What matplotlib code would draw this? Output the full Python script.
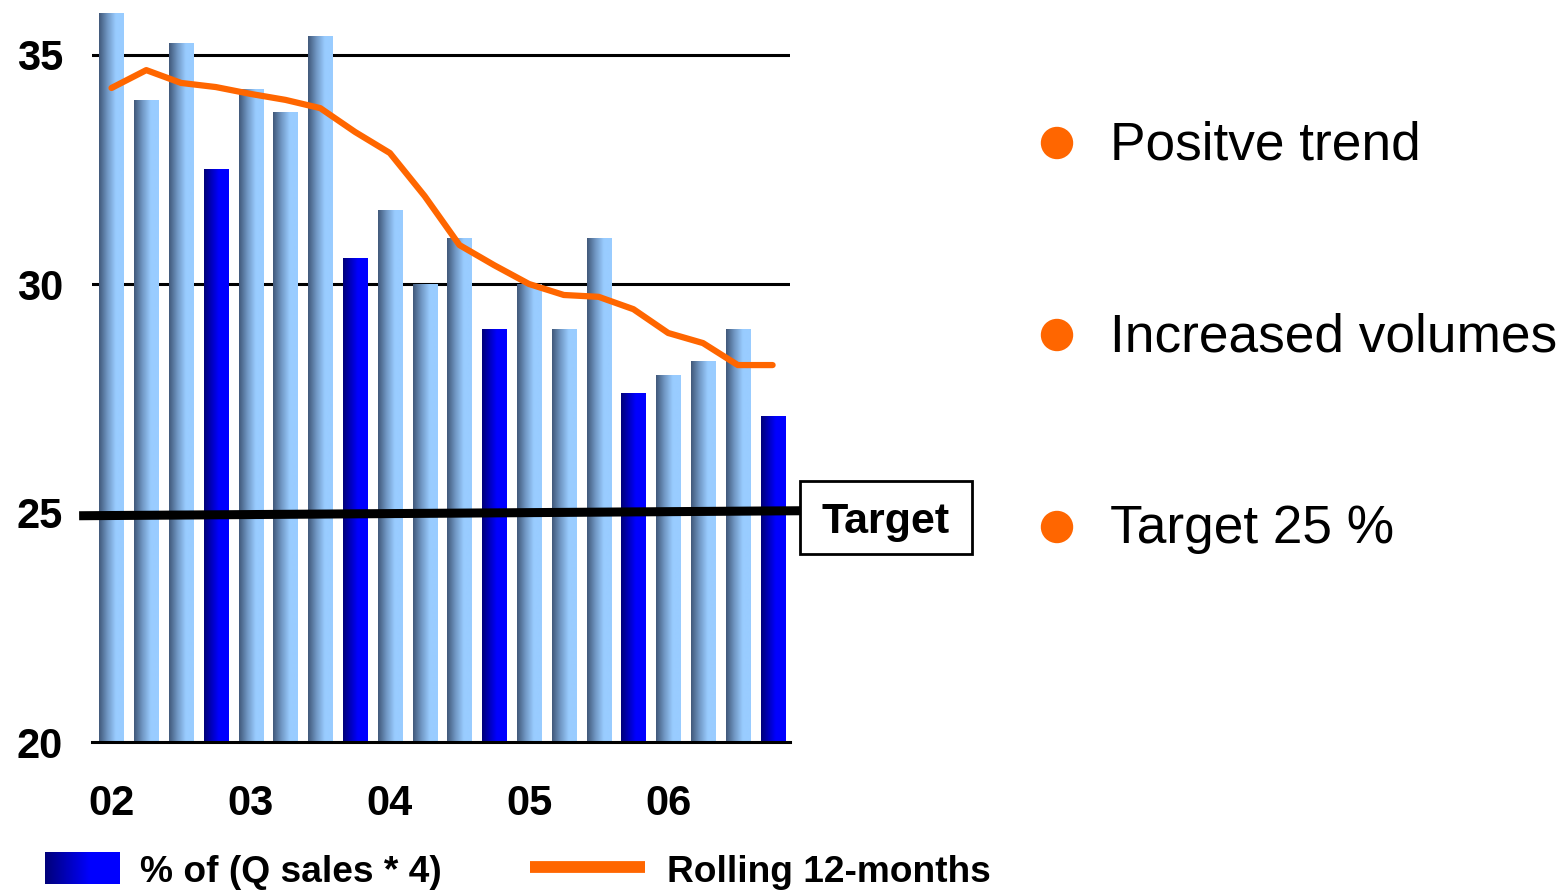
import numpy as np
import matplotlib
matplotlib.use("Agg")
import matplotlib.pyplot as plt
from matplotlib.colors import LinearSegmentedColormap
from matplotlib.patches import Circle, Rectangle

plt.rcParams['font.family'] = ['Liberation Sans', 'DejaVu Sans']

# Quarterly values, 2002-2006
quarter_values = [35.9, 34.0, 35.25, 32.5,
                  34.25, 33.75, 35.4, 30.55,
                  31.6, 30.0, 31.0, 29.0,
                  30.0, 29.0, 31.0, 27.6,
                  28.0, 28.3, 29.0, 27.1]
rolling_12m = [34.28, 34.67, 34.39, 34.30,
               34.15, 34.02, 33.84, 33.32,
               32.86, 31.92, 30.85, 30.41,
               30.0, 29.76, 29.72, 29.45,
               28.93, 28.71, 28.23, 28.23]
year_labels = ["02", "03", "04", "05", "06"]
target_line = [24.94, 25.05]
y_ticks = [20, 25, 30, 35]
bullets = ["Positve trend", "Increased volumes", "Target 25 %"]

W, H = 1562, 891
fig = plt.figure(figsize=(W / 100, H / 100), dpi=100)

ax_left, ax_right, ax_bottom, ax_top = 92, 790, 742, 9.2
ax = fig.add_axes([ax_left / W, 1 - ax_bottom / H,
                   (ax_right - ax_left) / W, (ax_bottom - ax_top) / H])

n = len(quarter_values)
x = np.arange(n)
bar_w = 0.69

light_cmap = LinearSegmentedColormap.from_list(
    "light", [(0, "#41597a"), (0.35, "#7299c6"), (0.68, "#99ccff"), (1, "#99ccff")])
dark_cmap = LinearSegmentedColormap.from_list(
    "dark", [(0, "#00007a"), (0.6, "#0000ff"), (1, "#0000ff")])
grad = np.linspace(0, 1, 64).reshape(1, -1)

bars = ax.bar(x, np.array(quarter_values) - 20, bottom=20, width=bar_w,
              color="none", edgecolor="none", zorder=2)
for i, b in enumerate(bars):
    cmap = dark_cmap if i % 4 == 3 else light_cmap
    x0 = b.get_x()
    ax.imshow(grad, cmap=cmap, aspect="auto", interpolation="bilinear",
              extent=(x0, x0 + b.get_width(), 20, quarter_values[i]), zorder=2)

ax.plot(x, rolling_12m, color="#ff6600", lw=4.5, solid_capstyle="round",
        solid_joinstyle="round", zorder=4)

# gridlines at 30 and 35
for yv in (30, 35):
    ax.axhline(yv, color="black", lw=2.2, zorder=1)

# target line extends beyond the plotting area
ax.plot([-0.93, 19.93], target_line, color="black", lw=6.5, zorder=5,
        clip_on=False, solid_capstyle="butt")

ax.set_xlim(-0.56, 19.5)
ax.set_ylim(20, 36)
for s in ("top", "right", "left"):
    ax.spines[s].set_visible(False)
ax.spines["bottom"].set_linewidth(2.2)
ax.spines["bottom"].set_zorder(6)

ax.set_yticks(y_ticks)
ax.set_yticklabels([str(v) for v in y_ticks], fontsize=30, fontweight="bold")
ax.tick_params(axis="y", length=0, pad=21)
ax.set_xticks(x[::4])
ax.set_xticklabels(year_labels, fontsize=30, fontweight="bold")
ax.tick_params(axis="x", length=0, pad=30)
ax.set_facecolor("none")

# annotation layer in pixel coordinates
ov = fig.add_axes([0, 0, 1, 1], zorder=10)
ov.axis("off")

ov.add_patch(Rectangle((800, 481), 172, 73, fc="white", ec="black", lw=2))
ov.text(886, 522, "Target", fontsize=31, fontweight="bold", ha="center", va="center")

# legend
ov.imshow(grad, cmap=dark_cmap, aspect="auto", extent=(45, 120, 884, 852), zorder=3)
ov.text(140, 872, "% of (Q sales * 4)", fontsize=26.7, fontweight="bold", va="center")
ov.plot([530, 645], [867, 867], color="#ff6600", lw=8.5, solid_capstyle="butt")
ov.text(667, 872, "Rolling 12-months", fontsize=26.7, fontweight="bold", va="center")
ov.set_xlim(0, W)
ov.set_ylim(H, 0)

# bullet list
for k, txt in enumerate(bullets):
    yy = 143 + k * 192
    ov.add_patch(Circle((1057, yy), 15.5, color="#ff6600"))
    ov.text(1110, yy + 2, txt, fontsize=38.3, va="center")

fig.savefig("out.png", dpi=100, facecolor="white")
